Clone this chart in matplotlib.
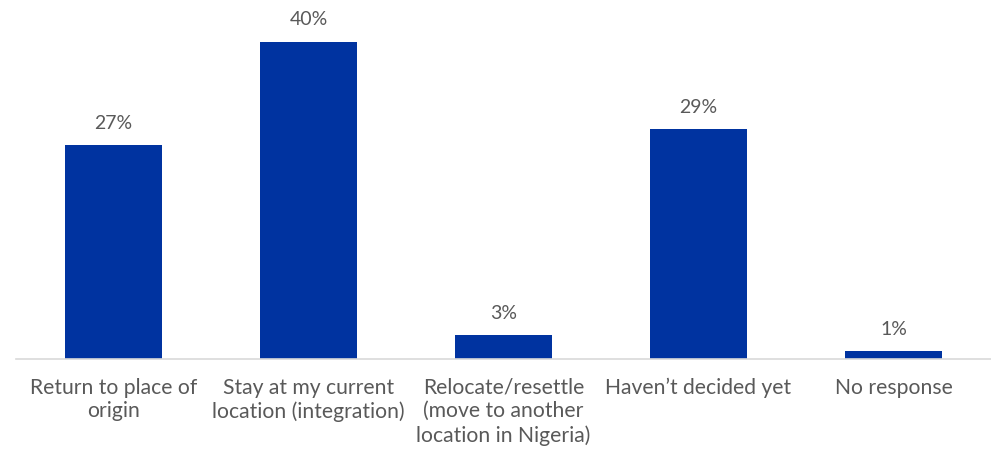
import matplotlib
matplotlib.use("Agg")
import matplotlib.pyplot as plt

categories = [
    "Return to place of\norigin",
    "Stay at my current\nlocation (integration)",
    "Relocate/resettle\n(move to another\nlocation in Nigeria)",
    "Haven\u2019t decided yet",
    "No response",
]
values = [27, 40, 3, 29, 1]

bar_color = "#0033A0"
text_color = "#595959"

plt.rcParams["font.family"] = ["Lato", "DejaVu Sans"]

fig = plt.figure(figsize=(9.91, 4.49), dpi=100)
ax = fig.add_axes([16 / 991, 90 / 449, 975 / 991, 357 / 449])

x = range(len(categories))
bars = ax.bar(x, values, width=0.5, color=bar_color)

for xi, v in zip(x, values):
    ax.annotate(f"{v}%", (xi, v), xytext=(0, 9.5), textcoords="offset points",
                ha="center", va="bottom", fontsize=14, color=text_color)

ax.set_xlim(-0.5, len(categories) - 0.5)
ax.set_ylim(0, 45)
ax.set_xticks(list(x))
ax.set_xticklabels(categories, fontsize=15.2, color=text_color, linespacing=1.22,
                   va="top")
ax.tick_params(axis="x", length=0, pad=13.5)
ax.set_yticks([])
for s in ("top", "right", "left"):
    ax.spines[s].set_visible(False)
ax.spines["bottom"].set_color("#d9d9d9")
ax.spines["bottom"].set_linewidth(1.2)

fig.savefig("out.png", dpi=100)
